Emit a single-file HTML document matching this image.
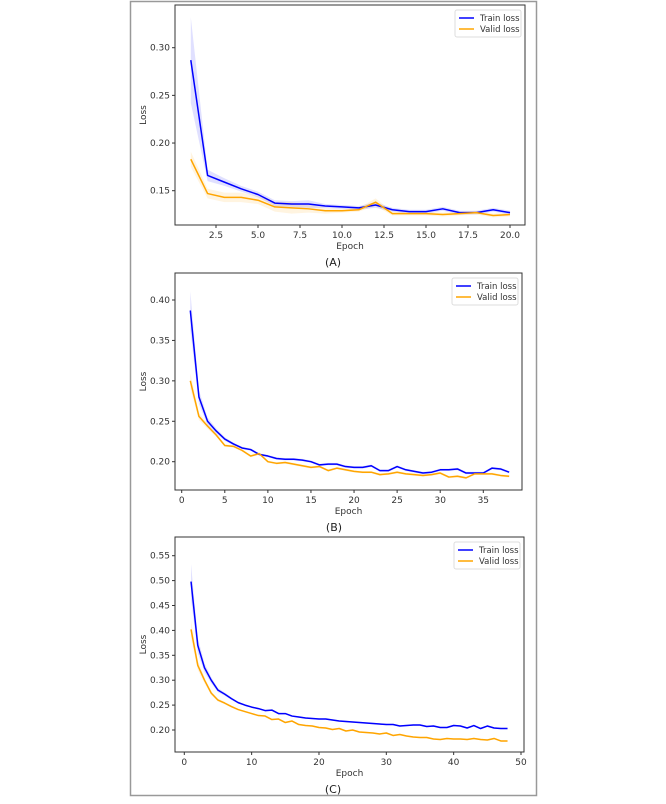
<!DOCTYPE html>
<html><head><meta charset="utf-8"><style>
body{margin:0;background:#fff;width:666px;height:799px;overflow:hidden;font-family:"Liberation Sans",sans-serif}
svg text{font-family:"DejaVu Sans","Liberation Sans",sans-serif}
</style></head><body>
<svg id="s" width="666" height="799">
<rect x="130.5" y="1.5" width="406" height="794" fill="none" stroke="#999" stroke-width="1.5"/>
</svg>
<script>
const epochsA=[1,2,3,4,5,6,7,8,9,10,11,12,13,14,15,16,17,18,19,20];
const trainA=[.287,.166,.159,.152,.146,.137,.136,.136,.134,.133,.132,.135,.130,.128,.128,.131,.127,.127,.130,.127];
const validA=[.183,.147,.143,.143,.140,.133,.132,.131,.129,.129,.130,.138,.126,.126,.126,.125,.126,.127,.124,.125];
const xticksA=["2.5","5.0","7.5","10.0","12.5","15.0","17.5","20.0"];
const yticksA=["0.15","0.20","0.25","0.30"];
const trainB=[.387,.28,.25,.238,.228,.222,.217,.215,.209,.207,.204,.203,.203,.202,.200,.196,.197,.197,.194,.193,.193,.195,.189,.189,.194,.190,.188,.186,.187,.190,.190,.191,.186,.186,.186,.192,.191,.187];
const validB=[.300,.256,.244,.233,.220,.219,.214,.207,.210,.200,.198,.199,.197,.195,.193,.194,.189,.192,.190,.188,.187,.187,.184,.185,.187,.185,.184,.183,.184,.186,.181,.182,.180,.185,.185,.185,.183,.182];
const xticksB=["0","5","10","15","20","25","30","35"];
const yticksB=["0.20","0.25","0.30","0.35","0.40"];
const trainC=[.498,.37,.325,.30,.28,.272,.263,.255,.25,.246,.243,.239,.240,.233,.233,.228,.226,.224,.223,.222,.222,.220,.218,.217,.216,.215,.214,.213,.212,.211,.211,.208,.209,.210,.210,.207,.208,.205,.205,.209,.208,.204,.209,.203,.208,.204,.203,.203];
const validC=[.402,.33,.30,.274,.26,.254,.247,.241,.237,.233,.229,.228,.221,.222,.215,.218,.211,.209,.208,.205,.204,.201,.203,.198,.200,.196,.195,.194,.192,.194,.189,.191,.188,.186,.185,.185,.182,.181,.183,.182,.182,.181,.183,.181,.180,.183,.178,.178];
const xticksC=["0","10","20","30","40","50"];
const yticksC=["0.20","0.25","0.30","0.35","0.40","0.45","0.50","0.55"];
const bandTrainA=[.045,.006,.004,.003,.003,.003,.003,.004,.002,.002,.002,.003,.002,.002,.002,.002,.002,.002,.002,.002];
const bandValidA=[.008,.005,.005,.005,.004,.005,.006,.004,.003,.002,.002,.004,.002,.002,.002,.002,.002,.002,.002,.002];

const NS="http://www.w3.org/2000/svg";
const svg=document.getElementById('s');
function mk(tag,attrs,parent){const e=document.createElementNS(NS,tag);for(const k in attrs)e.setAttribute(k,attrs[k]);(parent||svg).appendChild(e);return e;}
function band(arr,frac){return arr.map((v,i)=>Math.max(0.0015,(v-arr[arr.length-1])*frac/(1+i*0.3)));}

function chart(id,cfg){
  const g=mk('g',{});
  
  
  const {L,R,T,B,x0,x1,px0,px1,y0,y1,py0,py1}=cfg;
  const sx=v=>px0+(v-x0)*(px1-px0)/(x1-x0);
  const sy=v=>py0+(v-y0)*(py1-py0)/(y1-y0);
  const series=[[cfg.train,'#0000ff',cfg.bt||band(cfg.train,0.12),'train-loss'],[cfg.valid,'#ffa500',cfg.bv||band(cfg.valid,0.08),'valid-loss']];
  series.forEach(([d,c,b,nm])=>{
    const up=d.map((v,i)=>sx(i+1)+','+sy(v+b[i]));
    const dn=d.map((v,i)=>sx(i+1)+','+sy(v-b[i])).reverse();
    const p=mk('polygon',{points:up.concat(dn).join(' '),fill:c,'fill-opacity':0.12,stroke:'none'},g);
    
    
  });
  series.forEach(([d,c,b,nm])=>{
    const l=mk('polyline',{points:d.map((v,i)=>sx(i+1)+','+sy(v)).join(' '),fill:'none',stroke:c,'stroke-width':1.5,'stroke-linejoin':'round'},g);
    
    
  });
  const ax=mk('rect',{x:L,y:T,width:R-L,height:B-T,fill:'none',stroke:'#333','stroke-width':1},g);
  
  
  cfg.xt.forEach(t=>{const x=sx(parseFloat(t));
    mk('line',{x1:x,x2:x,y1:B,y2:B+3,stroke:'#333'},g);
    const tx=mk('text',{x:x,y:B+13,'font-size':9,'text-anchor':'middle',fill:'#333'},g);tx.textContent=t;
    
    });
  cfg.yt.forEach(t=>{const y=sy(parseFloat(t));
    mk('line',{x1:L-3,x2:L,y1:y,y2:y,stroke:'#333'},g);
    const tx=mk('text',{x:L-5,y:y+3,'font-size':9,'text-anchor':'end',fill:'#333'},g);tx.textContent=t;
    
    });
  const xl=mk('text',{x:(L+R)/2,y:B+24,'font-size':9,'text-anchor':'middle',fill:'#333'},g);xl.textContent='Epoch';
  
  
  const yl=mk('text',{x:0,y:0,'font-size':9,'text-anchor':'middle',fill:'#333',transform:`translate(${L-29},${(T+B)/2}) rotate(-90)`},g);yl.textContent='Loss';
  
  
  const lg=mk('g',{},g);
  
  
  const lx=R-70,ly=T+5;
  mk('rect',{x:lx,y:ly,width:66,height:27,fill:'#fff',stroke:'#ddd',rx:2},lg);
  [['Train loss','#0000ff'],['Valid loss','#ffa500']].forEach(([n,c],i)=>{
    mk('line',{x1:lx+4,x2:lx+19,y1:ly+8+i*11,y2:ly+8+i*11,stroke:c,'stroke-width':1.5},lg);
    const t=mk('text',{x:lx+25,y:ly+11+i*11,'font-size':8.5,fill:'#333'},lg);t.textContent=n;
    
    
  });
  const cap=mk('text',{x:cfg.cx,y:cfg.cy,'font-size':11,'text-anchor':'middle',fill:'#222','font-family':'Liberation Serif'},g);
  cap.textContent=cfg.cap;
  
  
}
chart('a',{L:175,R:525,T:5,B:225,x0:2.5,x1:20,px0:216,px1:510,y0:0.15,y1:0.30,py0:190.7,py1:47.7,train:trainA,valid:validA,bt:bandTrainA,bv:bandValidA,xt:xticksA,yt:yticksA,cap:'(A)',cx:333,cy:266});
chart('b',{L:175,R:522,T:273,B:490,x0:0,x1:35,px0:181.7,px1:483.3,y0:0.20,y1:0.40,py0:461.7,py1:300,train:trainB,valid:validB,xt:xticksB,yt:yticksB,cap:'(B)',cx:334,cy:531});
chart('c',{L:175,R:524,T:537,B:752,x0:0,x1:50,px0:184.3,px1:521,y0:0.20,y1:0.55,py0:730,py1:555.7,train:trainC,valid:validC,xt:xticksC,yt:yticksC,cap:'(C)',cx:333,cy:793});
</script>
</body></html>
